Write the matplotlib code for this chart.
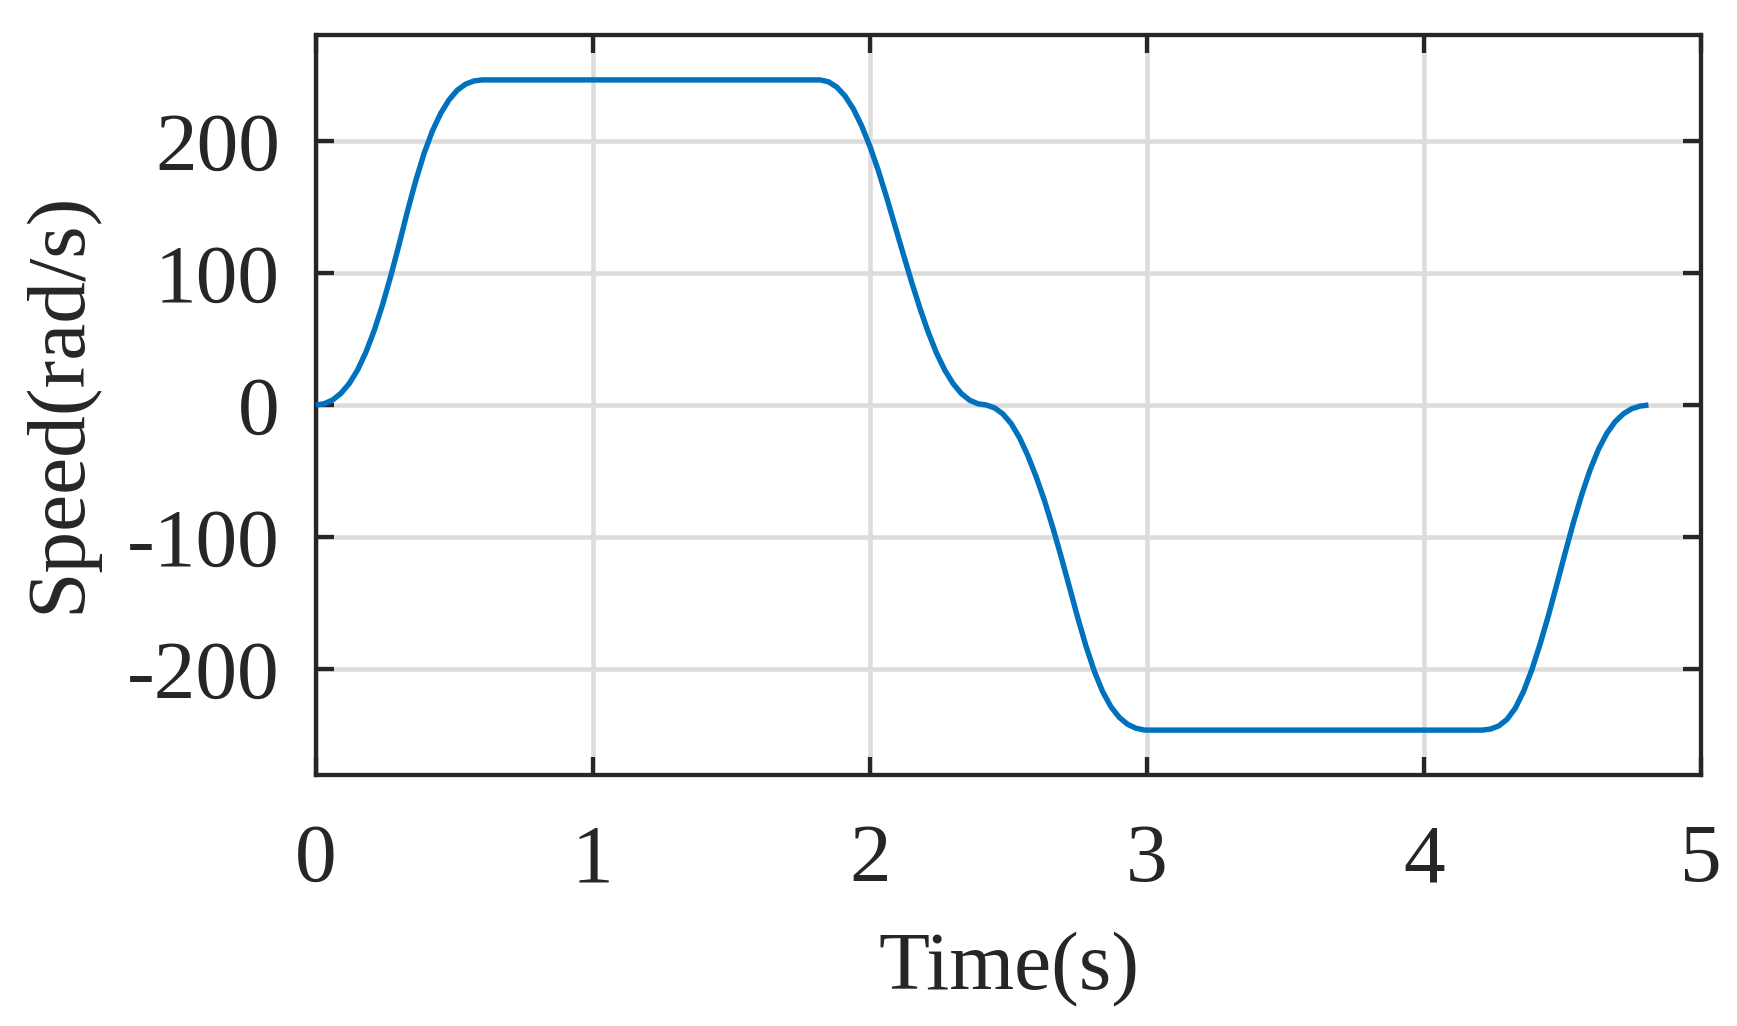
import matplotlib
matplotlib.use('Agg')
import matplotlib.pyplot as plt

plt.rcParams['font.family'] = ['Liberation Serif', 'DejaVu Serif']
plt.rcParams['axes.unicode_minus'] = False

# speed profile (time in s, speed in rad/s)
time_s = [
    0.0, 0.03, 0.06, 0.09, 0.12, 0.15, 0.18, 0.21, 0.24, 0.27, 0.30,
    0.33, 0.36, 0.39, 0.42, 0.45, 0.48, 0.51, 0.54, 0.57, 0.60,
    1.82, 1.85, 1.88, 1.91, 1.94, 1.97, 2.00, 2.03, 2.06, 2.09, 2.12,
    2.15, 2.18, 2.21, 2.24, 2.27, 2.30, 2.33, 2.36, 2.39, 2.42,
    2.45, 2.48, 2.51, 2.54, 2.57, 2.60, 2.63, 2.66, 2.69, 2.72,
    2.75, 2.78, 2.81, 2.84, 2.87, 2.90, 2.93, 2.96, 2.99, 3.00,
    4.21, 4.24, 4.27, 4.30, 4.33, 4.36, 4.39, 4.42, 4.45, 4.48, 4.51,
    4.54, 4.57, 4.60, 4.63, 4.66, 4.69, 4.72, 4.75, 4.78, 4.81,
]
speed = [
    0, 1, 3.8, 8.8, 16.2, 26.4, 39.8, 56.2, 75.6, 97.6, 121.4,
    146.4, 169.6, 190.2, 207.2, 220.6, 230.8, 238.2, 242.8, 245.2, 246,
    246, 244.6, 240.6, 233.8, 224.0, 211.2, 195.6, 177.4, 157.2, 135.7, 114.3,
    93.2, 73.4, 55.2, 39.4, 26.4, 16.2, 8.6, 3.6, 0.9, 0,
    -2.2, -6.8, -14.2, -24.8, -38.4, -54.4, -72.4, -92.8, -114.8, -137.8,
    -161, -182.6, -201.6, -217, -228.4, -236.4, -241.6, -244.6, -245.9, -246,
    -246, -245.2, -242.8, -237.8, -229.2, -216.4, -199.8, -180.2, -158.6, -135.2, -111.4,
    -88.4, -67.4, -48.8, -33.4, -21.4, -12.6, -6.6, -2.8, -0.8, 0,
]
x_ticks = [0, 1, 2, 3, 4, 5]
y_ticks = [-200, -100, 0, 100, 200]

dark = '#262626'

fig = plt.figure(figsize=(17.37, 10.26), dpi=100)
ax = fig.add_axes([0.1819, 0.2446, 0.7974, 0.7213])

ax.plot(time_s, speed, color='#0072BD', linewidth=3.9,
        solid_joinstyle='round', solid_capstyle='butt', zorder=3)

ax.set_xlim(0, 5)
ax.set_ylim(-280, 280)
ax.set_xticks(x_ticks)
ax.set_yticks(y_ticks)
ax.grid(True, color='#dcdcdc', linewidth=3.3)
ax.set_axisbelow(True)

ax.tick_params(direction='in', length=13, width=3.1, colors=dark,
               labelsize=60, top=True, right=True)
ax.tick_params(axis='x', pad=35)
ax.tick_params(axis='y', pad=26)
for s in ax.spines.values():
    s.set_linewidth(3.1)
    s.set_color(dark)

ax.set_xlabel('Time(s)', fontsize=60, color=dark)
ax.set_ylabel('Speed(rad/s)', fontsize=60, color=dark)
ax.xaxis.set_label_coords(0.5, -0.212)
ax.yaxis.set_label_coords(-0.158, 0.503)

fig.savefig('out.png', dpi=100)
plt.close(fig)
